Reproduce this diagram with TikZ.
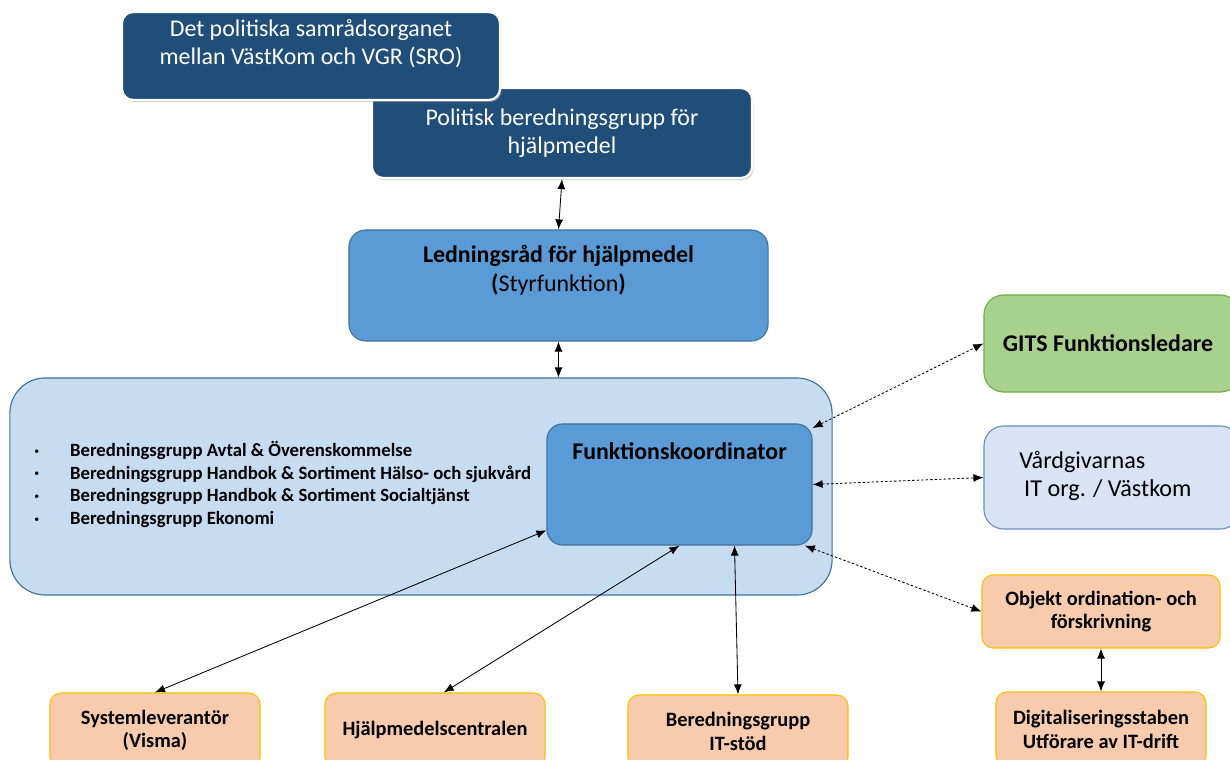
\documentclass[tikz,border=0pt]{standalone}
\usepackage{fontspec}
\setmainfont{Carlito}
\usepackage{tikz}
\usetikzlibrary{arrows.meta}
\usetikzlibrary{shadows}

\definecolor{navy}{HTML}{1F4E79}
\definecolor{midblue}{HTML}{5B9BD5}
\definecolor{midedge}{HTML}{41719C}
\definecolor{paleblue}{HTML}{C5DCF1}
\definecolor{leaf}{HTML}{A9D18E}
\definecolor{leafedge}{HTML}{70AD47}
\definecolor{mist}{HTML}{DAE3F3}
\definecolor{mistedge}{HTML}{6C8EBF}
\definecolor{peach}{HTML}{F8CBAD}
\definecolor{amber}{HTML}{FFC000}

\newcommand{\smallbullet}{\raisebox{1.6pt}{\scriptsize\textbullet}}

\begin{document}
\begin{tikzpicture}[
        x=0.025cm, y=-0.025cm,
        darkbox/.style={draw=white, line width=1.6pt, fill=navy, rounded corners=8pt, inner sep=0pt,
            drop shadow={shadow xshift=1pt, shadow yshift=-1.5pt, fill=gray!70, opacity=0.5}},
        bluebox/.style={draw=midedge, fill=midblue, line width=0.8pt, inner sep=0pt},
        peachbox/.style={draw=amber, fill=peach, line width=0.8pt, rounded corners=8pt, inner sep=0pt,
            align=center, font=\bfseries\fontsize{14.5}{16.8}\selectfont},
        link/.style={{Latex[length=2.5mm,width=2mm]}-{Latex[length=2.5mm,width=2mm]}, line width=0.6pt},
        dotlink/.style={link, dash pattern=on 1.8pt off 1.4pt}
    ]
        \useasboundingbox (0,0) rectangle (1230,760);

        % --- Politiska nivån ---
        \node[darkbox, minimum width=9.5cm, minimum height=2.25cm, text=white, align=center,
            font=\fontsize{17}{19.8}\selectfont] (pbg) at (562,133)
            {Politisk beredningsgrupp för\\hjälpmedel};
        \node[darkbox, minimum width=9.45cm, minimum height=2.2cm] (sro) at (311,56) {};
        \node[text=white, align=center, font=\fontsize{17}{19.8}\selectfont] (sro-text) at (311,44)
            {Det politiska samrådsorganet\\mellan VästKom och VGR (SRO)};

        % --- Ledningsråd ---
        \node[bluebox, rounded corners=12pt, minimum width=10.475cm, minimum height=2.775cm] (ledn) at (558.5,285.5) {};
        \node[align=center, font=\fontsize{17}{20.5}\selectfont] (ledn-text) at (558.5,270.5)
            {\textbf{Ledningsråd för hjälpmedel}\\\textbf{(}Styrfunktion\textbf{)}};

        % --- Beredningsgrupper och funktionskoordinator ---
        \node[draw=midedge, fill=paleblue, line width=0.8pt, rounded corners=25pt, inner sep=0pt,
            minimum width=20.55cm, minimum height=5.425cm] (groups) at (421,486.5) {};
        \node[anchor=west, inner sep=0pt, font=\fontsize{13.3}{16.1}\selectfont] (grouplist) at (34,486)
            {\begin{tabular}{@{}l@{\hspace{22pt}}l@{}}
                \smallbullet & \textbf{Beredningsgrupp Avtal \& Överenskommelse}\\
                \smallbullet & \textbf{Beredningsgrupp Handbok \& Sortiment Hälso- och sjukvård}\\
                \smallbullet & \textbf{Beredningsgrupp Handbok \& Sortiment Socialtjänst}\\
                \smallbullet & \textbf{Beredningsgrupp Ekonomi}
            \end{tabular}};
        \node[bluebox, rounded corners=11pt, minimum width=6.625cm, minimum height=3.025cm] (funk) at (679.5,484.5) {};
        \node[font=\bfseries\fontsize{17}{19}\selectfont] (funk-text) at (679.5,451) {Funktionskoordinator};

        % --- Högra sidan ---
        \node[draw=leafedge, fill=leaf, line width=0.8pt, rounded corners=14pt, inner sep=0pt,
            minimum width=6.4cm, minimum height=2.425cm, font=\bfseries\fontsize{17}{19}\selectfont] (gits) at (1112,343.5)
            {\hspace*{-0.2cm}GITS Funktionsledare};
        \node[draw=mistedge, fill=mist, line width=0.8pt, rounded corners=14pt, inner sep=0pt,
            minimum width=6.4cm, minimum height=2.575cm] (vard) at (1112,477.5) {};
        \node[anchor=west, align=left, inner sep=0pt, font=\fontsize{17.2}{20}\selectfont] (vard-text) at (1019,476)
            {Vårdgivarnas\\\hspace*{3.5pt}IT org. / Västkom};
        \node[peachbox, minimum width=5.95cm, minimum height=1.825cm] (objekt) at (1101,611.5)
            {Objekt ordination- och\\förskrivning};
        \node[peachbox, minimum width=5.25cm, minimum height=1.875cm] (digital) at (1101,729.5)
            {Digitaliseringsstaben\\Utförare av IT-drift};

        % --- Nedre raden ---
        \node[peachbox, minimum width=5.25cm, minimum height=1.875cm] (syst) at (155,730.5)
            {Systemleverantör\\(Visma)};
        \node[peachbox, minimum width=5.5cm, minimum height=1.875cm] (hjalp) at (435,730.5)
            {Hjälpmedelscentralen};
        \node[peachbox, minimum width=5.5cm, minimum height=1.825cm] (itstod) at (738,731.5)
            {Beredningsgrupp\\IT-stöd};

        % --- Pilar ---
        \draw[link] (pbg.south) -- (ledn.north);
        \draw[link] (ledn.south) -- (ledn.south |- groups.north);
        \draw[link] (funk.199) -- (syst.north);
        \draw[link] (funk.south) -- (hjalp.77);
        \draw[link] (funk.-48.5) -- (itstod.north);
        \draw[dotlink] (funk.23) -- (gits.west);
        \draw[dotlink] (funk.east) -- (vard.west);
        \draw[dotlink] (funk.-26) -- (objekt.west);
        \draw[link] (objekt.south) -- (digital.north);
    \end{tikzpicture}
\end{document}
